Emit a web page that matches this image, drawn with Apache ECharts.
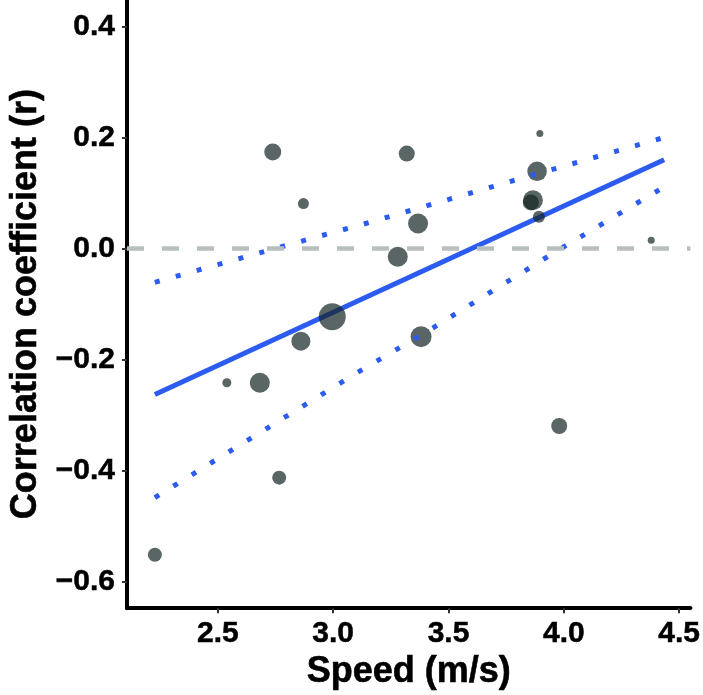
<!DOCTYPE html>
<html>
<head>
<meta charset="utf-8">
<script src="https://cdn.jsdelivr.net/npm/echarts@6/dist/echarts.min.js"></script>
<style>
html,body{margin:0;padding:0;background:#fff;}
#chart{width:703px;height:695px;}
</style>
</head>
<body>
<div id="chart"></div>
<script>
// Scatter points: speed (m/s), correlation coefficient (r), point size
const speed = [2.227, 2.539, 2.682, 2.766, 2.860, 2.738, 2.871, 2.996, 3.319, 3.368, 3.280, 3.381, 3.896, 3.884, 3.866, 3.857, 3.892, 4.379, 3.980];
const corr  = [-0.552, -0.242, -0.242, -0.413, -0.167, 0.174, 0.081, -0.123, 0.171, 0.045, -0.015, -0.159, 0.207, 0.139, 0.087, 0.083, 0.057, 0.015, -0.320];
const weight = [14, 9, 20, 14, 19, 17, 11, 27, 16, 20, 20, 21, 7, 19.5, 20, 16, 12, 7, 16];

// Regression fit line
const fitX = [2.227, 4.435];
const fitY = [-0.263, 0.160];
// Confidence band (dotted)
const upperX = [2.227, 2.757, 3.132, 3.812, 4.435];
const upperY = [-0.061, 0.001, 0.044, 0.126, 0.200];
const lowerX = [2.227, 3.091, 3.406, 3.952, 4.435];
const lowerY = [-0.449, -0.227, -0.150, -0.009, 0.111];

// Reference line
const zeroLine = 0;

// Axis ticks
const xTicks = [2.5, 3.0, 3.5, 4.0, 4.5];
const yTicks = [-0.6, -0.4, -0.2, 0.0, 0.2, 0.4];

const FONT = '"Liberation Sans", Arial, Helvetica, sans-serif';
const BLUE = '#2c5cef';

const zip = (a, b) => a.map((v, i) => [v, b[i]]);

const chart = echarts.init(document.getElementById('chart'), null, {renderer: 'canvas'});
chart.setOption({
  animation: false,
  backgroundColor: '#ffffff',
  grid: {left: 114, right: 8, top: 0, bottom: 83, containLabel: false},
  xAxis: {
    type: 'value',
    min: 2.106, max: 4.549,
    name: 'Speed (m/s)',
    nameLocation: 'middle',
    nameGap: 42,
    nameTextStyle: {fontFamily: FONT, fontWeight: 'bold', fontSize: 36, color: '#000',
      textBorderColor: '#000', textBorderWidth: 0.6},
    splitLine: {show: false},
    axisLine: {show: true, onZero: false, lineStyle: {color: '#000', width: 4}},
    axisTick: {show: true, length: 5, customValues: xTicks, lineStyle: {color: '#333', width: 2}},
    axisLabel: {
      customValues: xTicks, margin: 10,
      fontFamily: FONT, fontWeight: 'bold', fontSize: 30, color: '#000',
      textBorderColor: '#000', textBorderWidth: 0.5,
      formatter: v => v.toFixed(1)
    }
  },
  yAxis: {
    type: 'value',
    min: -0.6484, max: 0.4478,
    name: 'Correlation coefficient (r)',
    nameLocation: 'middle',
    nameGap: 77,
    nameTextStyle: {fontFamily: FONT, fontWeight: 'bold', fontSize: 36, color: '#000',
      textBorderColor: '#000', textBorderWidth: 0.6},
    splitLine: {show: false},
    axisLine: {show: true, onZero: false, lineStyle: {color: '#000', width: 4}},
    axisTick: {show: true, length: 5, customValues: yTicks, lineStyle: {color: '#333', width: 2}},
    axisLabel: {
      customValues: yTicks, margin: 12,
      fontFamily: FONT, fontWeight: 'bold', fontSize: 30, color: '#000',
      textBorderColor: '#000', textBorderWidth: 0.5,
      formatter: v => (v < 0 ? '\u2212' : '') + Math.abs(v).toFixed(1)
    }
  },
  series: [
    {
      type: 'line',
      data: [],
      silent: true,
      z: 1,
      markLine: {
        silent: true,
        symbol: 'none',
        label: {show: false},
        lineStyle: {color: '#b8c0bd', width: 4.5, type: [17, 18], cap: 'butt'},
        data: [{yAxis: zeroLine}]
      }
    },
    {
      type: 'line',
      data: zip(fitX, fitY),
      symbol: 'none',
      z: 2,
      lineStyle: {color: BLUE, width: 5, cap: 'butt'}
    },
    {
      type: 'scatter',
      data: speed.map((x, i) => [x, corr[i], weight[i]]),
      symbolSize: d => d[2],
      z: 3,
      itemStyle: {color: 'rgba(20,35,35,0.7)', opacity: 1}
    },
    {
      type: 'line',
      data: zip(upperX, upperY),
      symbol: 'none',
      z: 4,
      lineStyle: {color: BLUE, width: 5, type: [5, 16.7], cap: 'butt'}
    },
    {
      type: 'line',
      data: zip(lowerX, lowerY),
      symbol: 'none',
      z: 4,
      lineStyle: {color: BLUE, width: 5, type: [5, 16.7], cap: 'butt'}
    }
  ]
});
</script>
</body>
</html>
